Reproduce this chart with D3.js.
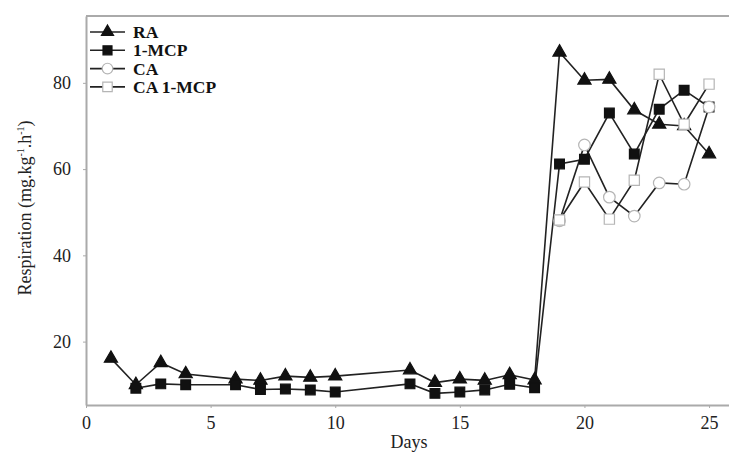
<!DOCTYPE html>
<html>
<head>
<meta charset="utf-8">
<script src="https://cdn.jsdelivr.net/npm/d3@7"></script>
<style>
  body { margin: 0; background: #fff; }
  text { font-family: "Liberation Serif", "Times New Roman", serif; }
</style>
</head>
<body>
<div id="chart"></div>
<script>
const daysRA = [1, 2, 3, 4, 6, 7, 8, 9, 10, 13, 14, 15, 16, 17, 18, 19, 20, 21, 22, 23, 24, 25];
const valuesRA = [16.1, 10.0, 15.1, 12.5, 11.3, 11.0, 12.0, 11.7, 12.0, 13.4, 10.5, 11.3, 11.0, 12.3, 11.1, 87.1, 80.6, 80.8, 73.7, 70.4, 70.0, 63.5];
const daysMCP = [2, 3, 4, 6, 7, 8, 9, 10, 13, 14, 15, 16, 17, 18, 19, 20, 21, 22, 23, 24, 25];
const valuesMCP = [9.2, 10.2, 10.0, 10.0, 8.9, 9.0, 8.8, 8.3, 10.2, 8.0, 8.3, 8.8, 10.1, 9.3, 61.2, 62.3, 73.0, 63.5, 73.9, 78.3, 74.4];
const daysCA = [19, 20, 21, 22, 23, 24, 25];
const valuesCA = [48.0, 65.6, 53.5, 49.1, 56.8, 56.5, 74.4];
const daysCAMCP = [19, 20, 21, 22, 23, 24, 25];
const valuesCAMCP = [48.2, 57.0, 48.4, 57.4, 82.0, 70.4, 79.7];
const seriesNames = ["RA", "1-MCP", "CA", "CA 1-MCP"];
const xTicks = [0, 5, 10, 15, 20, 25];
const yTicks = [20, 40, 60, 80];

const width = 729, height = 452;
const svg = d3.select("#chart").append("svg")
    .attr("width", width)
    .attr("height", height);

const x = d3.scaleLinear().domain([0, 25.8]).range([86, 729]);
const y = d3.scaleLinear().domain([5.3, 95.5]).range([405, 16]);

const axisColor = "#aaa";

// top frame line
svg.append("line")
    .attr("x1", x(0)).attr("x2", x(25.8))
    .attr("y1", y(95.5)).attr("y2", y(95.5))
    .attr("stroke", axisColor).attr("stroke-width", 2);

const xAxis = svg.append("g")
    .attr("transform", `translate(0,${y(5.3)})`)
    .call(d3.axisBottom(x).tickValues(xTicks).tickSize(3).tickSizeOuter(0).tickPadding(8));
const yAxis = svg.append("g")
    .attr("transform", `translate(${x(0)},0)`)
    .call(d3.axisLeft(y).tickValues(yTicks).tickSize(3).tickSizeOuter(0).tickPadding(12));

[xAxis, yAxis].forEach(g => {
    g.attr("font-family", "'Liberation Serif', serif");
    g.select(".domain").attr("stroke", axisColor).attr("stroke-width", 2);
    g.selectAll(".tick line").attr("stroke", axisColor);
    g.selectAll(".tick text")
        .attr("fill", "#222")
        .style("font-family", "'Liberation Serif', serif")
        .style("font-size", "18px");
});

svg.append("text")
    .attr("x", 409).attr("y", 448)
    .attr("text-anchor", "middle")
    .attr("fill", "#222")
    .style("font-size", "18px")
    .text("Days");

const ylab = svg.append("text")
    .attr("transform", "translate(31,208) rotate(-90)")
    .attr("text-anchor", "middle")
    .attr("fill", "#222")
    .style("font-size", "18px");
ylab.append("tspan").text("Respiration (mg.kg");
ylab.append("tspan").attr("dy", -7).style("font-size", "10px").text("-1");
ylab.append("tspan").attr("dy", 7).text(".h");
ylab.append("tspan").attr("dy", -7).style("font-size", "10px").text("-1");
ylab.append("tspan").attr("dy", 7).text(")");

const series = [
    { name: seriesNames[0], days: daysRA, values: valuesRA, shape: d3.symbolTriangle, size: 75, fill: "#111", stroke: "#111" },
    { name: seriesNames[1], days: daysMCP, values: valuesMCP, shape: d3.symbolSquare, size: 95, fill: "#111", stroke: "#111" },
    { name: seriesNames[2], days: daysCA, values: valuesCA, shape: d3.symbolCircle, size: 105, fill: "#fff", stroke: "#b5b5b5" },
    { name: seriesNames[3], days: daysCAMCP, values: valuesCAMCP, shape: d3.symbolSquare, size: 105, fill: "#fff", stroke: "#b5b5b5" }
];

const line = d3.line().x(d => x(d[0])).y(d => y(d[1]));

series.forEach(s => {
    const pts = s.days.map((d, i) => [d, s.values[i]]);
    svg.append("path")
        .datum(pts)
        .attr("fill", "none")
        .attr("stroke", "#222")
        .attr("stroke-width", 1.6)
        .attr("d", line);
});

series.forEach(s => {
    const pts = s.days.map((d, i) => [d, s.values[i]]);
    svg.selectAll(null)
        .data(pts)
        .enter()
        .append("path")
        .attr("transform", d => `translate(${x(d[0])},${y(d[1])})`)
        .attr("d", d3.symbol(s.shape, s.size))
        .attr("fill", s.fill)
        .attr("stroke", s.stroke)
        .attr("stroke-width", 1.2);
});

// legend
const legend = svg.append("g").attr("transform", "translate(90,32)");
series.forEach((s, i) => {
    const g = legend.append("g").attr("transform", `translate(0,${i * 18.3})`);
    g.append("line").attr("x1", 0).attr("x2", 35).attr("y1", 0).attr("y2", 0)
        .attr("stroke", "#222").attr("stroke-width", 1.6);
    g.append("path")
        .attr("transform", "translate(17.5,0)")
        .attr("d", d3.symbol(s.shape, s.size * 0.85))
        .attr("fill", s.fill)
        .attr("stroke", s.stroke)
        .attr("stroke-width", 1.2);
    g.append("text")
        .attr("x", 43).attr("y", 6)
        .attr("fill", "#111")
        .style("font-size", "17.5px")
        .style("font-weight", "bold")
        .text(s.name);
});
</script>
</body>
</html>
